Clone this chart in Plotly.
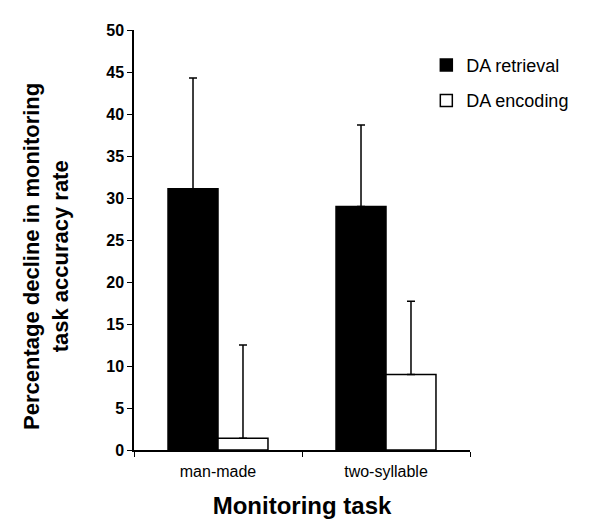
import plotly.graph_objects as go

categories = ["man-made", "two-syllable"]
retrieval = [31.1, 29.0]
retrieval_err = [13.2, 9.7]
encoding = [1.4, 9.0]
encoding_err = [11.1, 8.7]
y_ticks = [0, 5, 10, 15, 20, 25, 30, 35, 40, 45, 50]

FONT = "Liberation Sans, Arial, sans-serif"

fig = go.Figure()
fig.add_trace(go.Bar(
    name="DA retrieval", x=categories, y=retrieval, legendgroup="r",
    marker=dict(color="black", line=dict(color="black", width=1.5)),
    error_y=dict(type="data", symmetric=False, array=retrieval_err,
                 arrayminus=[0, 0], color="black", thickness=1.5, width=4),
))
fig.add_trace(go.Bar(
    name="DA encoding", x=categories, y=encoding, legendgroup="e",
    marker=dict(color="white", line=dict(color="black", width=1.5)),
    error_y=dict(type="data", symmetric=False, array=encoding_err,
                 arrayminus=[0, 0], color="black", thickness=1.5, width=4),
))

fig.update_layout(
    width=603, height=525,
    margin=dict(l=126, r=141, t=22, b=83),
    paper_bgcolor="white", plot_bgcolor="white",
    barmode="group", bargap=0.405, bargroupgap=0,
    font=dict(family=FONT, color="black"),
    showlegend=True,
    legend=dict(x=0.87, y=0.96, xanchor="left", yanchor="top",
                font=dict(size=18, family=FONT, color="black"),
                bgcolor="rgba(0,0,0,0)", traceorder="grouped", tracegroupgap=9,
                itemwidth=30),
    xaxis=dict(
        showline=True, linecolor="black", linewidth=1.5,
        ticks="outside", ticklen=5, tickcolor="black", tickwidth=1,
        tickson="boundaries", ticklabelstandoff=6,
        tickfont=dict(size=16, family=FONT, color="black"),
        title=dict(text="<b>Monitoring task</b>", font=dict(size=24, family=FONT, color="black"), standoff=18),
    ),
    yaxis=dict(
        range=[0, 50], tickvals=y_ticks,
        showline=True, linecolor="black", linewidth=1.5,
        showgrid=False, zeroline=False,
        ticks="outside", ticklen=5, tickcolor="black", tickwidth=1,
        tickfont=dict(size=16, family=FONT, color="black", weight="bold"),
    ),
    annotations=[dict(
        text="<b>Percentage decline in monitoring<br>task accuracy rate</b>",
        textangle=-90, xref="paper", yref="paper",
        x=-0.262, y=0.462, xanchor="center", yanchor="middle",
        showarrow=False, font=dict(size=22, family=FONT, color="black"),
    )],
)

fig.write_html("out.html")
